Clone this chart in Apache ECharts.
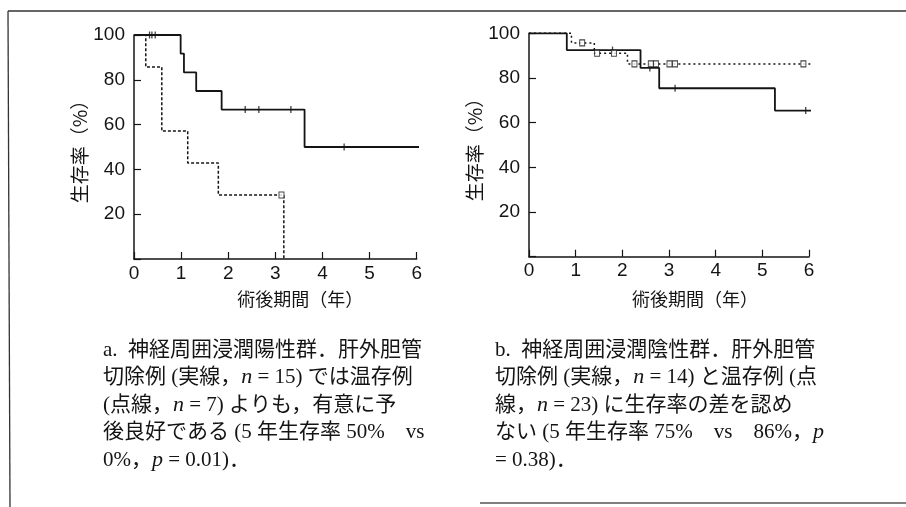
<!DOCTYPE html>
<html>
<head>
<meta charset="utf-8">
<script src="https://cdn.jsdelivr.net/npm/echarts@6/dist/echarts.min.js"></script>
<style>
  html, body { margin: 0; padding: 0; background: #fff; }
  #chart { width: 906px; height: 507px; }
</style>
</head>
<body>
<div id="chart"></div>
<script>
// Panel a: perineural invasion positive
const resectTimeA = [0, 0.99, 1.06, 1.32, 1.86, 3.62, 6.21];
const resectSurvA = [100, 91.7, 83.3, 75.0, 66.7, 50.0, 50.0];
const resectCensorA = [0.33, 0.38, 0.45, 2.36, 2.65, 3.33, 4.46];
const preserveTimeA = [0, 0.25, 0.59, 1.14, 1.79, 3.18];
const preserveSurvA = [100, 85.7, 57.1, 42.9, 28.6, 0];
const preserveCensorA = [3.13];

// Panel b: perineural invasion negative
const resectTimeB = [0, 0.81, 2.39, 2.79, 5.27, 6.2];
const resectSurvB = [100, 92.5, 84.5, 75.4, 65.4, 65.4];
const resectCensorB = [1.79, 2.59, 3.13, 5.93];
const preserveTimeB = [0, 0.91, 1.40, 2.11, 6.09];
const preserveSurvB = [100, 95.7, 91.1, 86.3, 86.3];
const preserveCensorB = [1.14, 1.46, 1.82, 2.26, 2.61, 2.72, 3.01, 3.13, 5.88];

const xTicks = [0, 1, 2, 3, 4, 5, 6];
const yTicks = [20, 40, 60, 80, 100];

const xName = '術後期間（年）';
const yName = '生存率（%）';

const captionA = [
  'a.  神経周囲浸潤陽性群．肝外胆管',
  '切除例 (実線，{i|n} = 15) では温存例',
  '(点線，{i|n} = 7) よりも，有意に予',
  '後良好である (5 年生存率 50%　vs',
  '0%，{i|p} = 0.01)．'
];
const captionB = [
  'b.  神経周囲浸潤陰性群．肝外胆管',
  '切除例 (実線，{i|n} = 14) と温存例 (点',
  '線，{i|n} = 23) に生存率の差を認め',
  'ない (5 年生存率 75%　vs　86%，{i|p}',
  '= 0.38)．'
];

const INK = '#141414';
const NUM_FONT = "'Liberation Sans', Arial, sans-serif";
const CJK_FONT = "'Noto Sans CJK JP', sans-serif";
const CAP_FONT = "'Liberation Serif', 'Noto Sans CJK JP', serif";

// survival level in effect at time t for a step curve
function levelAt(times, surv, t) {
  let v = surv[0];
  for (let i = 0; i < times.length; i++) {
    if (times[i] <= t) v = surv[i];
  }
  return v;
}
const pairs = (xs, ys) => xs.map((x, i) => [x, ys[i]]);
const censorPts = (cts, times, surv) => cts.map(t => [t, levelAt(times, surv, t)]);

function xAxisFor(gridIndex, padLeft, gap) {
  return {
    gridIndex, type: 'value', min: 0, max: 6, interval: 1,
    name: xName, nameLocation: 'middle', nameGap: gap,
    nameTextStyle: { fontFamily: CJK_FONT, fontSize: 18, color: INK, padding: [0, 0, 0, padLeft] },
    axisLine: { lineStyle: { color: INK, width: 1.5 } },
    axisTick: { inside: true, length: 7, lineStyle: { color: INK, width: 1.2 } },
    axisLabel: { fontFamily: NUM_FONT, fontSize: 19, color: INK, margin: 5,
      formatter: v => xTicks.includes(v) ? String(v) : '' },
    splitLine: { show: false }
  };
}
function yAxisFor(gridIndex, gap) {
  return {
    gridIndex, type: 'value', min: 0, max: 100, interval: 20,
    name: yName, nameLocation: 'middle', nameGap: gap, nameRotate: 90,
    nameTextStyle: { fontFamily: CJK_FONT, fontSize: 19, color: INK },
    axisLine: { lineStyle: { color: INK, width: 1.5 } },
    axisTick: { inside: true, length: 7, lineStyle: { color: INK, width: 1.2 } },
    axisLabel: { fontFamily: NUM_FONT, fontSize: 19, color: INK, margin: 9,
      formatter: v => yTicks.includes(v) ? String(v) : '' },
    splitLine: { show: false }
  };
}

function curveSeries(idx, data, dashed) {
  return {
    type: 'line', xAxisIndex: idx, yAxisIndex: idx, data, step: 'end',
    showSymbol: false, symbol: 'none', clip: false, silent: true,
    lineStyle: dashed
      ? { color: INK, width: 1.5, type: dashed }
      : { color: INK, width: 1.8 }
  };
}
function tickSeries(idx, data) {
  return {
    type: 'scatter', xAxisIndex: idx, yAxisIndex: idx, data, clip: false,
    symbol: 'rect', symbolSize: [1.3, 7], itemStyle: { color: INK }, z: 3
  };
}
function boxSeries(idx, data) {
  return {
    type: 'scatter', xAxisIndex: idx, yAxisIndex: idx, data, clip: false,
    symbol: 'rect', symbolSize: [5, 6],
    itemStyle: { color: '#fff', borderColor: INK, borderWidth: 1 }, z: 4
  };
}

function captionTexts(lines, x) {
  const y0 = 350, step = 27.5;
  return lines.map((t, i) => ({
    type: 'text', x, y: y0 + i * step, z: 10,
    style: {
      text: t, fontFamily: CAP_FONT, fontSize: 21, fill: INK, verticalAlign: 'middle',
      rich: { i: { fontFamily: "'Liberation Serif', serif", fontStyle: 'italic', fontSize: 22, fill: INK } }
    }
  }));
}

const chart = echarts.init(document.getElementById('chart'), null, { renderer: 'canvas' });
chart.setOption({
  animation: false,
  backgroundColor: '#fff',
  grid: [
    { left: 134, top: 35, width: 282.7, height: 224 },
    { left: 529, top: 33.3, width: 280, height: 223.4 }
  ],
  xAxis: [xAxisFor(0, 50, 31), xAxisFor(1, 52, 33)],
  yAxis: [yAxisFor(0, 42), yAxisFor(1, 38)],
  series: [
    curveSeries(0, pairs(resectTimeA, resectSurvA), null),
    curveSeries(0, pairs(preserveTimeA, preserveSurvA), [3, 2]),
    tickSeries(0, censorPts(resectCensorA, resectTimeA, resectSurvA)),
    boxSeries(0, censorPts(preserveCensorA, preserveTimeA, preserveSurvA)),
    curveSeries(1, pairs(resectTimeB, resectSurvB), null),
    curveSeries(1, pairs(preserveTimeB, preserveSurvB), [2, 3]),
    tickSeries(1, censorPts(resectCensorB, resectTimeB, resectSurvB)),
    boxSeries(1, censorPts(preserveCensorB, preserveTimeB, preserveSurvB))
  ],
  graphic: [
    // figure frame
    { type: 'line', shape: { x1: 8, y1: 11, x2: 906, y2: 11 }, style: { stroke: '#333', lineWidth: 1.3 } },
    { type: 'line', shape: { x1: 8, y1: 11, x2: 10, y2: 507 }, style: { stroke: '#333', lineWidth: 1.3 } },
    { type: 'line', shape: { x1: 480, y1: 503, x2: 906, y2: 503 }, style: { stroke: '#555', lineWidth: 1.3 } },
    ...captionTexts(captionA, 103),
    ...captionTexts(captionB, 495)
  ]
});
</script>
</body>
</html>
